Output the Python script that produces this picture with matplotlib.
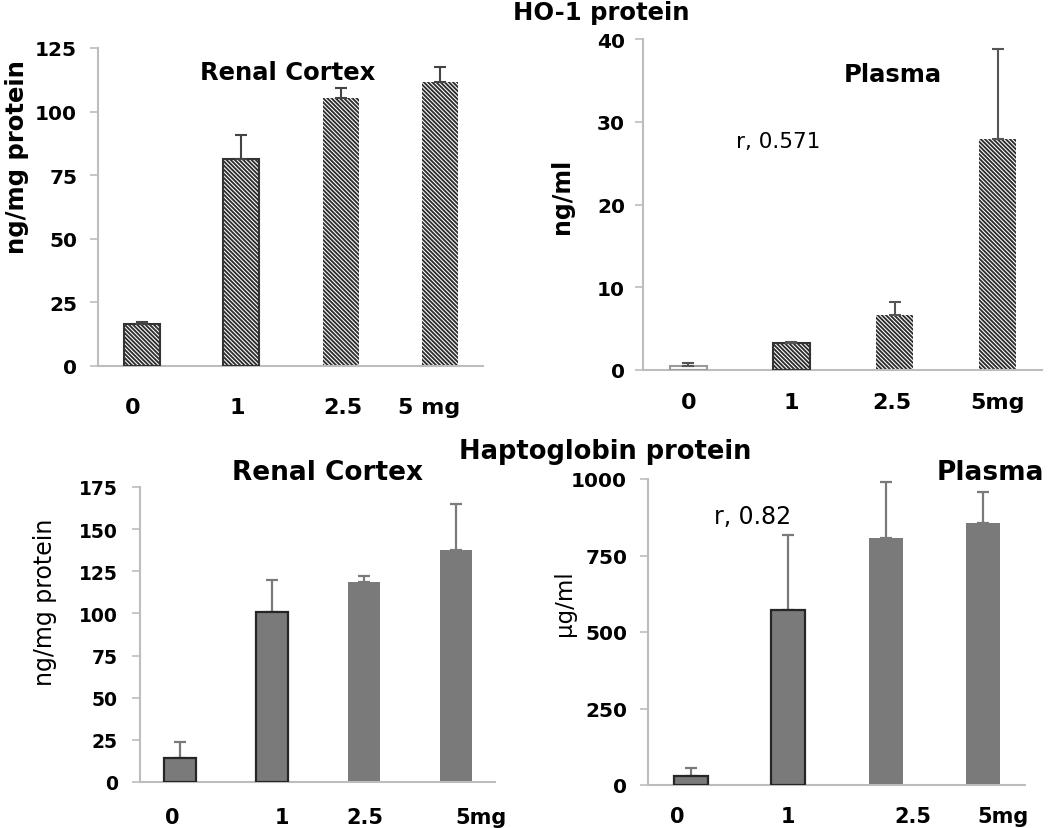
import matplotlib
matplotlib.use("Agg")
import matplotlib.pyplot as plt

plt.rcParams['font.family'] = ['DejaVu Sans']
plt.rcParams['hatch.linewidth'] = 1.35

W, H = 1050, 829

# ---- data ----
ho1_cortex_labels = ['0', '1', '2.5', '5 mg']
ho1_cortex = [16.5, 81.4, 105.3, 111.6]
ho1_cortex_err = [0.8, 9.4, 4.0, 5.9]

ho1_plasma_labels = ['0', '1', '2.5', '5mg']
ho1_plasma = [0.5, 3.26, 6.65, 27.9]
ho1_plasma_err = [0.3, 0.15, 1.55, 10.9]

hp_cortex_labels = ['0', '1', '2.5', '5mg']
hp_cortex = [14.1, 101.1, 118.5, 137.7]
hp_cortex_err = [9.7, 19.0, 4.0, 27.0]

hp_plasma_labels = ['0', '1', '2.5', '5mg']
hp_plasma = [30.5, 571, 808, 855]
hp_plasma_err = [25, 247, 183, 101]

fig = plt.figure(figsize=(W / 100, H / 100), dpi=100)


def px_axes(x0, y0, x1, y1):
    return fig.add_axes([x0 / W, 1 - y1 / H, (x1 - x0) / W, (y1 - y0) / H])


def ftext(x, y, s, **kw):
    fig.text(x / W, 1 - y / H, s, ha='center', va='center', **kw)


SPINE = '#bdbdbd'


def style(ax, ylim, yticks, labels, offsets, ytick_size, xtick_size, ypad, xpad):
    ax.set_xlim(-0.44, 3.43)
    ax.set_ylim(*ylim)
    ax.set_yticks(yticks)
    ax.set_yticklabels([str(t) for t in yticks], fontsize=ytick_size, fontweight='bold')
    ax.set_xticks([i + o for i, o in enumerate(offsets)])
    ax.set_xticklabels(labels, fontsize=xtick_size, fontweight='bold')
    for s in ['top', 'right']:
        ax.spines[s].set_visible(False)
    for s in ['left', 'bottom']:
        ax.spines[s].set_color(SPINE)
        ax.spines[s].set_linewidth(1.5)
    ax.tick_params(axis='y', length=6, width=1.2, color=SPINE, pad=ypad)
    ax.tick_params(axis='x', length=0, pad=xpad)


def hatched(ax, vals, errs, edges, white_first=False, errcolor='#444444'):
    x = list(range(len(vals)))
    hatches = ['' if (white_first and i == 0) else '\\' * 8 for i in x]
    for i in x:
        ax.bar(x[i], vals[i], width=0.36, color='white', hatch=hatches[i],
               edgecolor='#2e2e2e', linewidth=0, zorder=2)
    for i in x:
        if edges[i] is not None:
            ax.bar(x[i], vals[i], width=0.36, fill=False, edgecolor=edges[i],
                   linewidth=1.5, zorder=3)
    ax.errorbar(x, vals, yerr=[[0] * len(vals), errs], fmt='none', ecolor=errcolor,
                elinewidth=1.5, capsize=4, capthick=1.5, zorder=4)


def gray(ax, vals, errs, edges):
    x = list(range(len(vals)))
    ax.bar(x, vals, width=0.35, color='#7a7a7a', edgecolor='none', zorder=2)
    for i in x:
        if edges[i] is not None:
            ax.bar(x[i], vals[i], width=0.35, fill=False, edgecolor=edges[i],
                   linewidth=1.6, zorder=3)
    ax.errorbar(x, vals, yerr=[[0] * len(vals), errs], fmt='none', ecolor='#7a7a7a',
                elinewidth=1.6, capsize=4, capthick=1.6, zorder=1)


# ---- top left: HO-1 renal cortex ----
ax1 = px_axes(98, 49, 483, 367)
hatched(ax1, ho1_cortex, ho1_cortex_err, ['#333333', '#333333', None, None])
style(ax1, (0, 125), [0, 25, 50, 75, 100, 125], ho1_cortex_labels,
      [-0.09, -0.04, 0.02, -0.11], 14.5, 16, 9, 22)

# ---- top right: HO-1 plasma ----
ax2 = px_axes(643, 40, 1042, 371)
hatched(ax2, ho1_plasma, ho1_plasma_err, ['#9a9a9a', '#333333', None, None],
        white_first=True, errcolor='#555555')
style(ax2, (0, 40), [0, 10, 20, 30, 40], ho1_plasma_labels,
      [0, 0, -0.03, 0], 14.5, 16, 7, 16)

# ---- bottom left: haptoglobin renal cortex ----
ax3 = px_axes(140, 488, 495, 783)
gray(ax3, hp_cortex, hp_cortex_err, ['#262626', '#262626', None, None])
style(ax3, (0, 175), [0, 25, 50, 75, 100, 125, 150, 175], hp_cortex_labels,
      [-0.09, 0.11, 0.01, 0.28], 13.5, 15, 10, 18)

# ---- bottom right: haptoglobin plasma ----
ax4 = px_axes(648, 480, 1025, 786)
gray(ax4, hp_plasma, hp_plasma_err, ['#262626', '#262626', None, None])
style(ax4, (0, 1000), [0, 250, 500, 750, 1000], hp_plasma_labels,
      [-0.14, 0, 0.28, 0.2], 14.5, 15, 9, 15)

# ---- texts ----
ftext(601, 13, 'HO-1 protein', fontsize=17.5, fontweight='bold')
ftext(605, 452, 'Haptoglobin protein', fontsize=18.5, fontweight='bold')

ftext(288, 73, 'Renal Cortex', fontsize=17.5, fontweight='bold')
ftext(893, 75, 'Plasma', fontsize=17.5, fontweight='bold')
ftext(778, 142, 'r, 0.571', fontsize=15.5)
ftext(327, 473, 'Renal Cortex', fontsize=19, fontweight='bold')
ftext(990, 473, 'Plasma', fontsize=19, fontweight='bold')
ftext(753, 517, 'r, 0.82', fontsize=17)

ftext(17, 157, 'ng/mg protein', fontsize=17.5, fontweight='bold', rotation=90)
ftext(562, 196, 'ng/ml', fontsize=17, fontweight='bold', rotation=90)
ftext(45, 602, 'ng/mg protein', fontsize=17, rotation=90)
ftext(565, 603, 'μg/ml', fontsize=16.5, rotation=90)

fig.savefig('out.png', dpi=100)
